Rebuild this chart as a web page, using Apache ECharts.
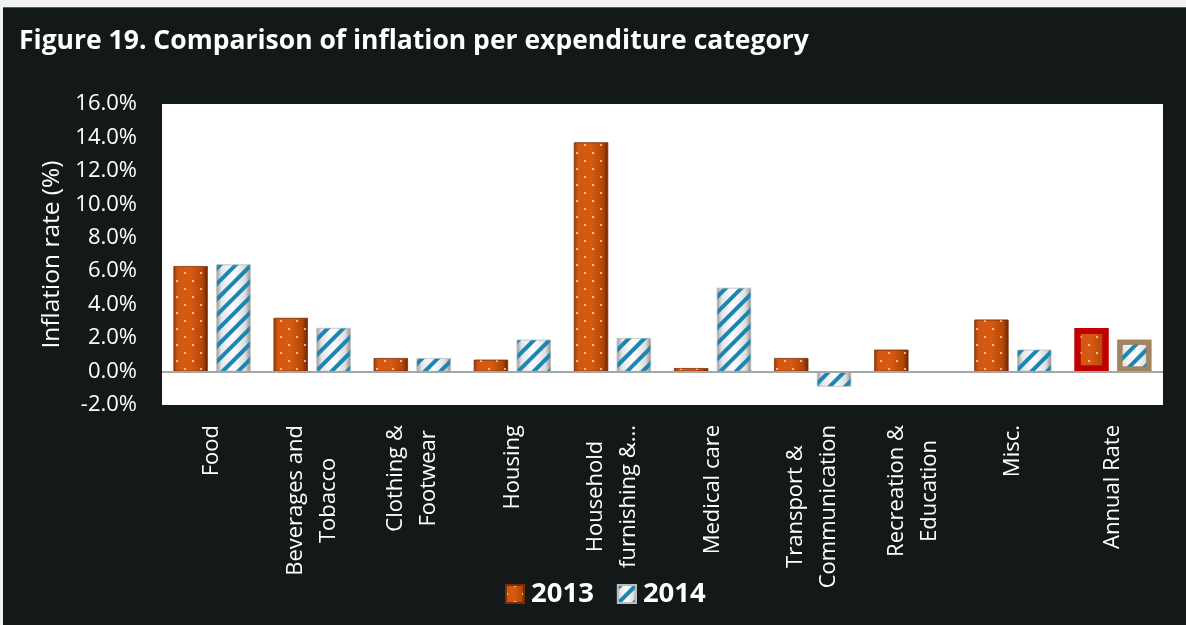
<!DOCTYPE html>
<html>
<head>
<meta charset="utf-8">
<script src="https://cdn.jsdelivr.net/npm/echarts@6/dist/echarts.min.js"></script>
<style>
  html, body { margin: 0; padding: 0; background: #f2f2f2; }
  #chart { width: 1186px; height: 625px; }
</style>
</head>
<body>
<div id="chart"></div>
<script>
// Inflation rate (%) by expenditure category, 2013 vs 2014
const categories = [
  'Food', 'Beverages and\nTobacco', 'Clothing &\nFootwear', 'Housing',
  'Household\nfurnishing &...', 'Medical care', 'Transport &\nCommunication',
  'Recreation &\nEducation', 'Misc.', 'Annual Rate'
];
const values2013 = [6.3, 3.2, 0.8, 0.7, 13.7, 0.2, 0.8, 1.3, 3.1, 2.6];
const values2014 = [6.4, 2.6, 0.8, 1.9, 2.0, 5.0, -0.9, 0.0, 1.3, 1.9];
const seriesNames = ['2013', '2014'];
const yTicks = { min: -2, max: 16, interval: 2 };

const FONT = '"Open Sans", "Noto Sans", sans-serif';

const orangeFill = {
  type: 'linear', x: 0, y: 0, x2: 1, y2: 0,
  colorStops: [
    { offset: 0, color: '#9c3a07' },
    { offset: 0.12, color: '#d4570f' },
    { offset: 0.5, color: '#d65a12' },
    { offset: 0.85, color: '#b24606' },
    { offset: 1, color: '#6a2503' }
  ]
};
const whiteFill = {
  type: 'linear', x: 0, y: 0, x2: 1, y2: 0,
  colorStops: [
    { offset: 0, color: '#9a9a9a' },
    { offset: 0.15, color: '#e6e6e6' },
    { offset: 0.5, color: '#ffffff' },
    { offset: 0.85, color: '#dcdcdc' },
    { offset: 1, color: '#8c8c8c' }
  ]
};
const dotDecal = {
  symbol: 'circle',
  symbolSize: 1,
  color: 'rgba(255,255,255,0.85)',
  dashArrayX: [[2, 14], [0, 8, 2, 6]],
  dashArrayY: [2, 6]
};
const stripeDecal = {
  symbol: 'rect',
  symbolSize: 1,
  color: '#1b86b3',
  dashArrayX: [1, 0],
  dashArrayY: [4, 7],
  rotation: -Math.PI / 4
};

function withAnnualStyle(values, borderColor, borderWidth) {
  return values.map((v, i) => i === values.length - 1
    ? { value: v, itemStyle: { borderColor: borderColor, borderWidth: borderWidth } }
    : v);
}

const chart = echarts.init(document.getElementById('chart'));
chart.setOption({
  backgroundColor: '#131919',
  animation: false,
  graphic: [
    { type: 'rect', shape: { x: 0, y: 0, width: 1186, height: 7 }, style: { fill: '#f2f2f2' }, silent: true },
    { type: 'rect', shape: { x: 0, y: 7, width: 1186, height: 1 }, style: { fill: '#5a5a5a' }, silent: true },
    { type: 'rect', shape: { x: 0, y: 0, width: 3, height: 625 }, style: { fill: '#f2f2f2' }, silent: true },
    { type: 'rect', shape: { x: 162, y: 104, width: 1001, height: 301 }, style: { fill: '#ffffff' }, silent: true, z: -1 }
  ],
  title: {
    text: 'Figure 19. Comparison of inflation per expenditure category',
    left: 19, top: 28, padding: 0,
    textStyle: { color: '#ffffff', fontSize: 26.5, fontWeight: 'bold', fontFamily: FONT }
  },
  legend: {
    data: seriesNames,
    left: 500, top: 575,
    icon: 'rect',
    itemWidth: 18, itemHeight: 18, itemGap: 23,
    textStyle: { color: '#ffffff', fontSize: 27.5, fontWeight: 'bold', fontFamily: FONT, padding: [0, 0, 0, 2] }
  },
  grid: { left: 162, top: 104, width: 1001, height: 301, containLabel: false },
  xAxis: {
    type: 'category',
    data: categories,
    axisLine: { show: false, onZero: false },
    axisTick: { show: false },
    axisLabel: {
      rotate: 90,
      interval: 0,
      margin: 20,
      color: '#ffffff',
      fontSize: 22,
      fontFamily: FONT,
      lineHeight: 33,
      formatter: v => v.split('\n').map(s => '{c|' + s + '}').join('\n'),
      rich: { c: { align: 'center', color: '#ffffff', fontSize: 22, lineHeight: 33, fontFamily: FONT } }
    }
  },
  yAxis: {
    type: 'value',
    min: yTicks.min, max: yTicks.max, interval: yTicks.interval,
    name: 'Inflation rate (%)',
    nameLocation: 'middle',
    nameGap: 95,
    nameTextStyle: { color: '#ffffff', fontSize: 24.5, fontFamily: FONT },
    axisLine: { show: false },
    axisTick: { show: false },
    splitLine: { show: false },
    axisLabel: {
      margin: 25,
      color: '#ffffff',
      fontSize: 22,
      fontFamily: FONT,
      formatter: v => v.toFixed(1) + '%'
    }
  },
  series: [
    {
      name: seriesNames[0],
      type: 'bar',
      barWidth: 34,
      barGap: '26%',
      data: withAnnualStyle(values2013, '#c00000', 6),
      itemStyle: { color: orangeFill, decal: dotDecal, borderColor: '#7a2c05', borderWidth: 0.5 },
      markLine: {
        silent: true,
        symbol: 'none',
        label: { show: false },
        lineStyle: { color: '#a6a6a6', width: 2, type: 'solid' },
        data: [{ yAxis: 0 }]
      }
    },
    {
      name: seriesNames[1],
      type: 'bar',
      barWidth: 34,
      data: withAnnualStyle(values2014, '#a2845e', 5),
      itemStyle: { color: whiteFill, decal: stripeDecal, borderColor: '#bdbdbd', borderWidth: 0.5 }
    }
  ]
});
</script>
</body>
</html>
